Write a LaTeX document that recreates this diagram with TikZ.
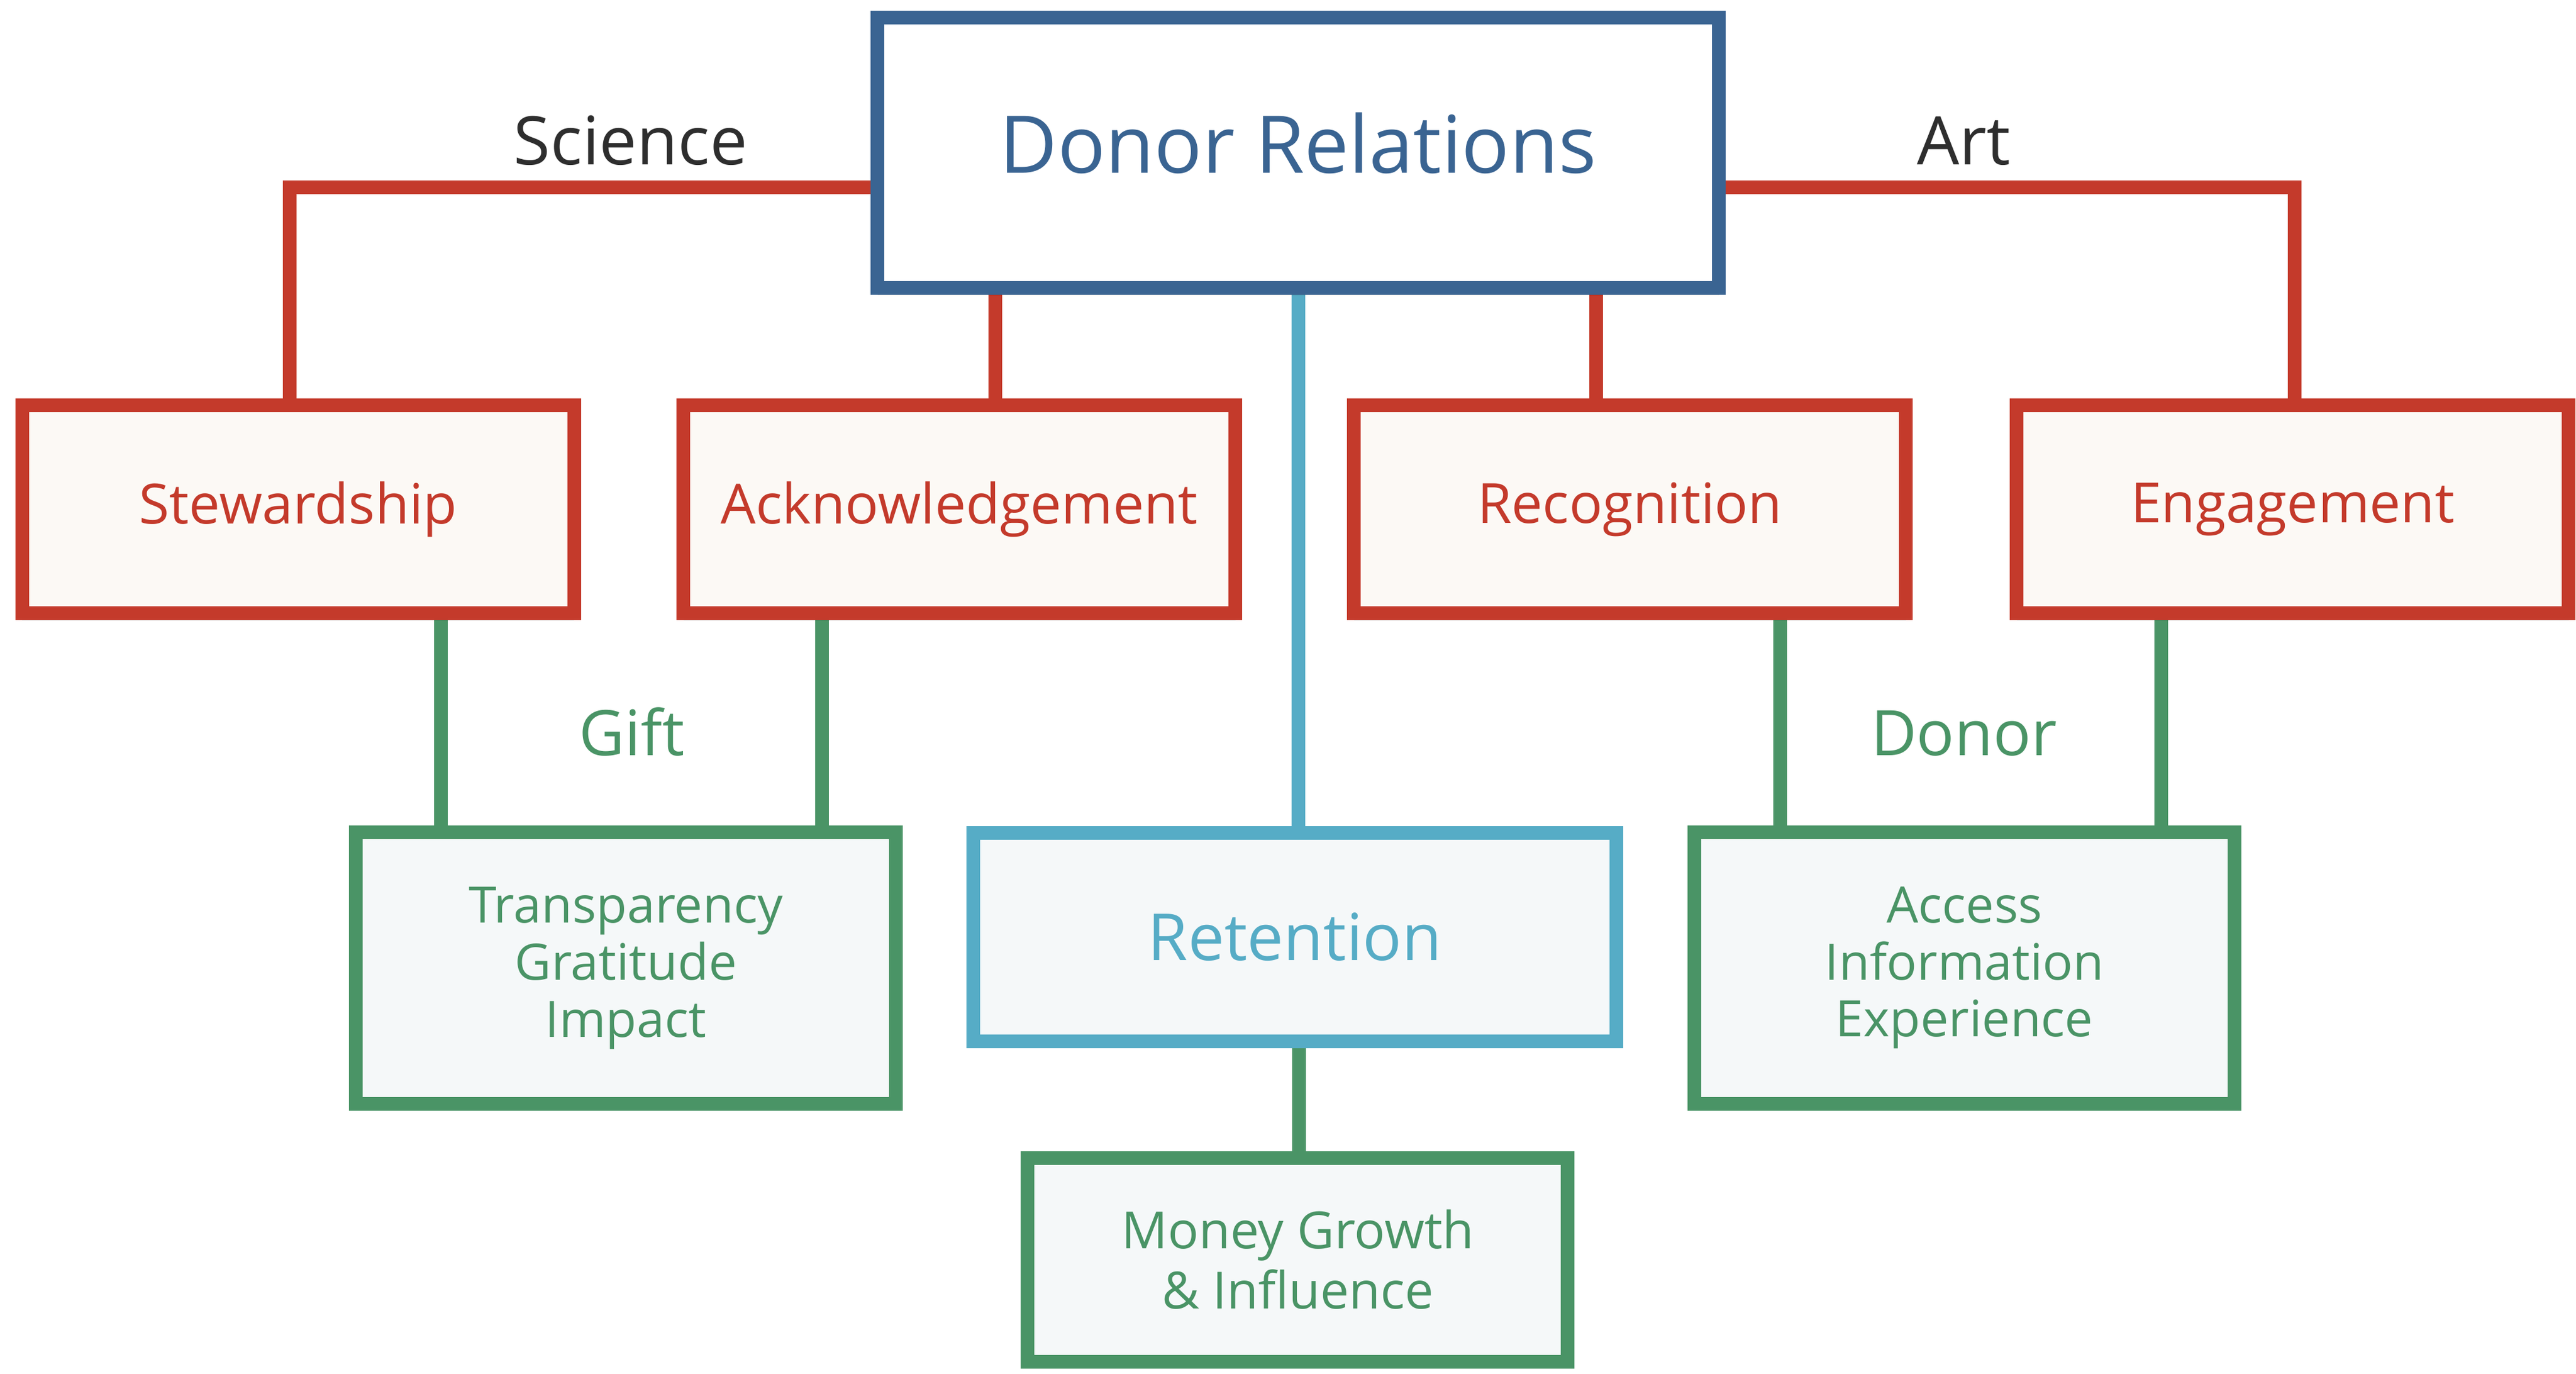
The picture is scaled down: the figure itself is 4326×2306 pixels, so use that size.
\documentclass[tikz,border=0pt]{standalone}
\usepackage{fontspec}
\setmainfont{Open Sans}
\usetikzlibrary{shadows,backgrounds}

\definecolor{drblue}{HTML}{3A6492}
\definecolor{drred}{HTML}{C43A2B}
\definecolor{drteal}{HTML}{56ACC6}
\definecolor{drgreen}{HTML}{4A9466}
\definecolor{creamfill}{HTML}{FCF9F5}
\definecolor{mistfill}{HTML}{F5F8F9}
\definecolor{labelgray}{HTML}{2E2E2E}

\tikzset{
  boxshadow/.style={drop shadow={shadow xshift=0mm, shadow yshift=-1.2mm, opacity=.12, fill=black}},
  rootbox/.style={boxshadow, draw=drblue, fill=white, line width=2.3mm,
    minimum width=141.3mm, minimum height=45.4mm, text=drblue, text depth=3.4mm,
    font=\fontsize{38}{44}\selectfont},
  pillarbox/.style={boxshadow, draw=drred, fill=creamfill, line width=2.3mm,
    minimum width=92.7mm, minimum height=34.9mm, text=drred,
    font=\fontsize{26.5}{31}\selectfont},
  valuebox/.style={boxshadow, draw=drgreen, fill=mistfill, line width=2.3mm,
    minimum width=90.7mm, minimum height=45.6mm, text=drgreen, align=center,
    font=\fontsize{24}{27.2}\selectfont},
  retainbox/.style={boxshadow, draw=drteal, fill=mistfill, line width=2.3mm,
    minimum width=108mm, minimum height=35mm, text=drteal,
    font=\fontsize{31}{36}\selectfont},
  redline/.style={draw=drred, line width=2.3mm},
  tealline/.style={draw=drteal, line width=2.3mm},
  greenline/.style={draw=drgreen, line width=2.3mm},
  sidelabel/.style={anchor=base, text=labelgray, font=\fontsize{32}{36}\selectfont},
  tierlabel/.style={anchor=base, text=drgreen, font=\fontsize{30}{34}\selectfont}
}

\begin{document}
\begin{tikzpicture}[x=0.1mm, y=-0.1mm]
\useasboundingbox (0, 0) rectangle (4326, 2306);

% top
\node [rootbox] (root) at (2180, 256.7) {Donor Relations};

% pillars
\node [pillarbox] (stew) at (500.8, 855) {Stewardship};
\node [pillarbox] (ack) at (1611, 855) {Acknowledgement};
\node [pillarbox] (recog) at (2737, 855) {Recognition};
\node [pillarbox] (eng) at (3850, 855) {Engagement};

% bottom rows
\node [valuebox] (gift) at (1051, 1625.4) {Transparency\\Gratitude\\Impact};
\node [retainbox] (ret) at (2174.5, 1573.3) {Retention};
\node [valuebox] (donor) at (3299, 1625) {Access\\Information\\Experience};
\node [valuebox, minimum height=34.2mm, font=\fontsize{24.5}{28.7}\selectfont] (money) at (2179.4, 2115) {Money Growth\\\& Influence};

\coordinate (sci) at (486.5, 314);
\coordinate (art) at (3853, 314);

\node [sidelabel] at (1059, 276) {Science};
\node [sidelabel] at (3298, 276) {Art};
\node [tierlabel] at (1061, 1268) {Gift};
\node [tierlabel] at (3298, 1268) {Donor};

\begin{pgfonlayer}{background}
\draw [redline] (root.west |- sci) -- (sci) -- (stew.north -| sci);
\draw [redline] (root.east |- art) -- (art) -- (eng.north -| art);
\draw [redline] (root.south -| 1671, 0) -- (ack.north -| 1671, 0);
\draw [redline] (root.south -| 2680, 0) -- (recog.north -| 2680, 0);
\draw [tealline] (root.south -| 2180, 0) -- (ret.north -| 2180, 0);
\draw [greenline] (ret.south -| 2181, 0) -- (money.north -| 2181, 0);
\draw [greenline] (stew.south -| 740, 0) -- (gift.north -| 740, 0);
\draw [greenline] (ack.south -| 1380, 0) -- (gift.north -| 1380, 0);
\draw [greenline] (recog.south -| 2989.5, 0) -- (donor.north -| 2989.5, 0);
\draw [greenline] (eng.south -| 3629, 0) -- (donor.north -| 3629, 0);
\end{pgfonlayer}
\end{tikzpicture}
\end{document}
